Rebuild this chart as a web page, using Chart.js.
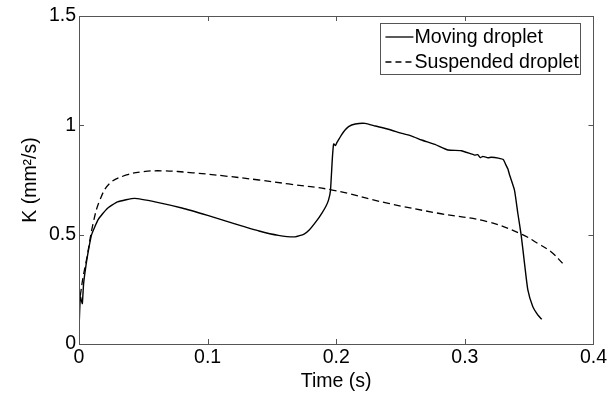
<!DOCTYPE html>
<html lang="en">
<head>
  <meta charset="UTF-8" />
  <title>K vs Time</title>
  <script src="https://cdn.jsdelivr.net/npm/chart.js"></script>
  <style>
    html, body { margin: 0; padding: 0; background: #fff; }
    #wrap { width: 609px; height: 393px; }
  </style>
</head>
<body>
  <div id="wrap"><canvas id="kChart" width="609" height="393"></canvas></div>

  <script>
    // Moving droplet (solid)
    const movingT = [0, 0.0005, 0.0011, 0.0018, 0.0026, 0.0035, 0.0046, 0.0065, 0.0098, 0.015, 0.022, 0.030, 0.0433,
      0.060, 0.080, 0.100, 0.120, 0.140, 0.155, 0.168, 0.175, 0.179, 0.185, 0.189, 0.192, 0.194, 0.1955, 0.197,
      0.198, 0.1995, 0.2006, 0.202, 0.204, 0.2058, 0.2096, 0.2148, 0.2225, 0.2303, 0.2406, 0.251, 0.2587,
      0.2664, 0.2767, 0.287, 0.2973, 0.3077, 0.310, 0.312, 0.314, 0.318, 0.3206, 0.326, 0.330, 0.332, 0.3335, 0.3348,
      0.3386, 0.3412, 0.3438, 0.3464, 0.349, 0.3528, 0.3567, 0.3598];
    const movingK = [0.06, 0.15, 0.216, 0.2, 0.185, 0.27, 0.325, 0.4, 0.5, 0.57, 0.62, 0.65, 0.666,
      0.649, 0.622, 0.588, 0.552, 0.517, 0.497, 0.49, 0.503, 0.521, 0.565, 0.60, 0.63, 0.658, 0.70, 0.85,
      0.915, 0.908, 0.922, 0.936, 0.955, 0.971, 0.994, 1.006, 1.009, 0.997, 0.982, 0.963, 0.951,
      0.933, 0.913, 0.887, 0.884, 0.864, 0.866, 0.852, 0.858, 0.852, 0.854, 0.850, 0.843, 0.818, 0.80, 0.773,
      0.704, 0.598, 0.498, 0.369, 0.247, 0.171, 0.133, 0.113];

    // Suspended droplet (dashed)
    const suspT = [0.001, 0.003, 0.006, 0.011, 0.0162, 0.024, 0.0369, 0.0498, 0.065, 0.0884, 0.114, 0.140,
      0.163, 0.197, 0.2406, 0.2793, 0.318, 0.3438, 0.3567, 0.367, 0.376];
    const suspK = [0.22, 0.30, 0.39, 0.552, 0.658, 0.735, 0.773, 0.788, 0.792, 0.783, 0.768, 0.75,
      0.732, 0.704, 0.643, 0.598, 0.559, 0.503, 0.46, 0.422, 0.369];

    const xTicks = [0, 0.1, 0.2, 0.3, 0.4];
    const yTicks = [0, 0.5, 1, 1.5];
    const seriesNames = ['Moving droplet', 'Suspended droplet'];

    const FONT = 'Arial, "Liberation Sans", sans-serif';
    const AXIS_COLOR = '#555';

    function toPoints(xs, ys) {
      return xs.map((x, i) => ({ x: x, y: ys[i] }));
    }

    // tick marks inside the box on all four sides + legend box
    const boxPlugin = {
      id: 'boxPlugin',
      afterDraw(chart) {
        const c = chart.ctx;
        const a = chart.chartArea;
        const xs = chart.scales.x;
        const ys = chart.scales.y;
        c.save();
        c.strokeStyle = AXIS_COLOR;
        c.lineWidth = 1;
        c.strokeRect(Math.round(a.left) + 0.5, Math.round(a.top) + 0.5,
          Math.round(a.right - a.left), Math.round(a.bottom - a.top));
        c.beginPath();
        xTicks.forEach(v => {
          const px = Math.round(xs.getPixelForValue(v)) + 0.5;
          c.moveTo(px, a.bottom); c.lineTo(px, a.bottom - 5);
          c.moveTo(px, a.top); c.lineTo(px, a.top + 5);
        });
        yTicks.forEach(v => {
          const py = Math.round(ys.getPixelForValue(v)) + 0.5;
          c.moveTo(a.left, py); c.lineTo(a.left + 5, py);
          c.moveTo(a.right, py); c.lineTo(a.right - 5, py);
        });
        c.stroke();

        // legend
        const lx = a.right - 213, ly = a.top + 7, lw = 200, lh = 51;
        c.fillStyle = '#fff';
        c.fillRect(lx, ly, lw, lh);
        c.strokeRect(Math.round(lx) + 0.5, Math.round(ly) + 0.5, lw, lh);
        c.fillStyle = '#000';
        c.strokeStyle = '#000';
        c.font = '19.6px ' + FONT;
        c.textBaseline = 'middle';
        seriesNames.forEach((name, i) => {
          const y = ly + 14 + i * 25;
          c.beginPath();
          c.lineWidth = 1.3;
          c.setLineDash(i === 1 ? [6, 4] : []);
          c.moveTo(lx + 5, y); c.lineTo(lx + 33, y);
          c.stroke();
          c.setLineDash([]);
          c.fillText(name, lx + 34, y + 1);
        });
        c.restore();
      }
    };

    const ctx = document.getElementById('kChart').getContext('2d');
    new Chart(ctx, {
      type: 'line',
      data: {
        datasets: [
          {
            label: seriesNames[0],
            data: toPoints(movingT, movingK),
            borderColor: '#000',
            borderWidth: 1.4,
            pointRadius: 0,
            tension: 0.15,
            fill: false
          },
          {
            label: seriesNames[1],
            data: toPoints(suspT, suspK),
            borderColor: '#000',
            borderWidth: 1.3,
            borderDash: [7, 4],
            pointRadius: 0,
            tension: 0.4,
            fill: false
          }
        ]
      },
      options: {
        responsive: false,
        animation: false,
        layout: { padding: { left: 0, right: 12, top: 16, bottom: 0 } },
        plugins: { legend: { display: false }, tooltip: { enabled: false } },
        scales: {
          x: {
            type: 'linear',
            min: 0, max: 0.4,
            afterBuildTicks: axis => { axis.ticks = xTicks.map(v => ({ value: v })); },
            afterFit: axis => { axis.height = 49; },
            grid: { display: false, drawTicks: false },
            border: { display: false },
            ticks: {
              color: '#000', padding: 2,
              font: { family: FONT, size: 19.5 },
              callback: v => String(v)
            },
            title: {
              display: true, text: 'Time (s)', color: '#000',
              font: { family: FONT, size: 19.5 },
              padding: { top: 0, bottom: 0 }
            }
          },
          y: {
            min: 0, max: 1.5,
            afterBuildTicks: axis => { axis.ticks = yTicks.map(v => ({ value: v })); },
            afterFit: axis => { axis.width = 79; },
            grid: { display: false, drawTicks: false },
            border: { display: false },
            ticks: {
              color: '#000', padding: 3,
              font: { family: FONT, size: 19.5 },
              callback: v => String(v)
            },
            title: {
              display: true, text: 'K (mm²/s)', color: '#000',
              font: { family: FONT, size: 19.5 },
              padding: { top: 19, bottom: 0 }
            }
          }
        }
      },
      plugins: [boxPlugin]
    });
  </script>
</body>
</html>
